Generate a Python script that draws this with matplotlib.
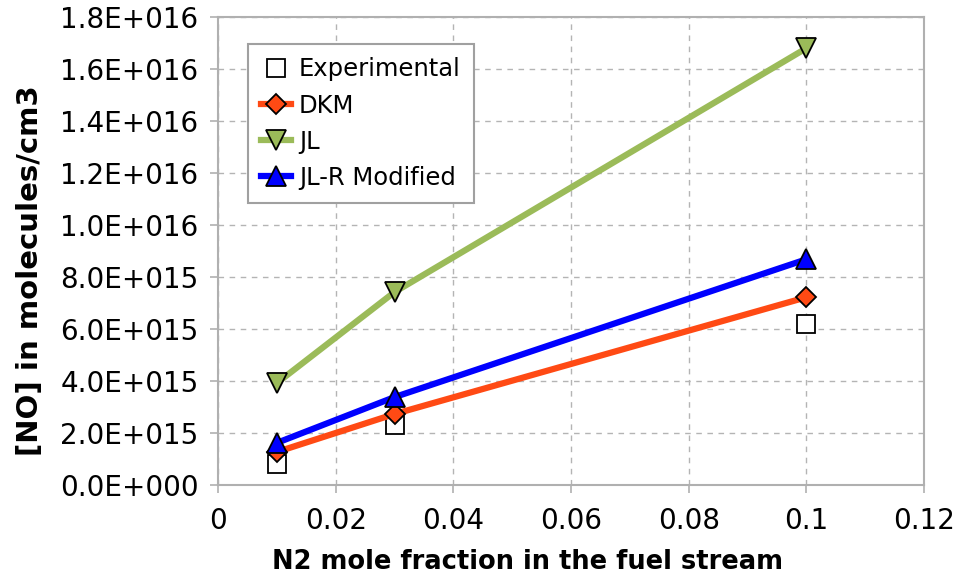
import numpy as np
import matplotlib.pyplot as plt
from matplotlib.ticker import FuncFormatter, MultipleLocator

plt.rcParams['font.family'] = ['DejaVu Sans']

# N2 mole fraction in the fuel stream
x_frac = [0.01, 0.03, 0.1]

# [NO] in molecules/cm3
no_exp = [0.081e16, 0.23e16, 0.62e16]
no_dkm = [0.127e16, 0.273e16, 0.722e16]
no_jl = [0.392e16, 0.742e16, 1.68e16]
no_jlr = [0.162e16, 0.338e16, 0.868e16]


def sci_fmt(v, pos):
    if v == 0:
        return "0.0E+000"
    exp = int(np.floor(np.log10(abs(v)) + 1e-9))
    mant = v / 10 ** exp
    return f"{mant:.1f}E+{exp:03d}"


fig = plt.figure(figsize=(9.71, 5.8), dpi=100)
ax = fig.add_axes([218 / 971, 1 - 485 / 580, 706 / 971, 468 / 580])

grid_c = '#b4b4b4'
ax.grid(True, color=grid_c, linestyle=(0, (4, 4)), linewidth=1.0)
ax.set_axisbelow(True)
for side in ax.spines:
    ax.spines[side].set_color('#b0b0b0')
    ax.spines[side].set_linewidth(1.5)

ax.plot(x_frac, no_exp, linestyle='none', marker='s', markersize=13,
        markerfacecolor='white', markeredgecolor='black', markeredgewidth=1.3,
        label='Experimental', zorder=3)
ax.plot(x_frac, no_dkm, color='#ff4a14', linewidth=4.5, marker='D', markersize=10,
        markerfacecolor='#ff4a14', markeredgecolor='black', markeredgewidth=1.3,
        label='DKM', zorder=4)
ax.plot(x_frac, no_jl, color='#9bbb59', linewidth=4.5, marker='v', markersize=15,
        markerfacecolor='#9bbb59', markeredgecolor='black', markeredgewidth=1.3,
        label='JL', zorder=4)
ax.plot(x_frac, no_jlr, color='#0000ff', linewidth=4.5, marker='^', markersize=15,
        markerfacecolor='#0000ff', markeredgecolor='black', markeredgewidth=1.3,
        label='JL-R Modified', zorder=5)

ax.set_xlim(0, 0.12)
ax.set_ylim(0, 1.8e16)
ax.xaxis.set_major_locator(MultipleLocator(0.02))
ax.yaxis.set_major_locator(MultipleLocator(0.2e16))
ax.xaxis.set_major_formatter(FuncFormatter(lambda v, p: f"{v:g}"))
ax.yaxis.set_major_formatter(FuncFormatter(sci_fmt))
ax.tick_params(axis='both', labelsize=20, color='#b0b0b0', length=6, width=1.2)
ax.tick_params(axis='y', pad=8)
ax.tick_params(axis='x', pad=10)

ax.set_xlabel('N2 mole fraction in the fuel stream', fontsize=18.5, fontweight='bold')
ax.xaxis.set_label_coords(0.438, -0.136)
ax.set_ylabel('[NO] in molecules/cm3', fontsize=21, fontweight='bold')
ax.yaxis.set_label_coords(-0.247, 0.459)

leg = ax.legend(loc='upper left', bbox_to_anchor=(30 / 706, 1 - 27 / 468), fontsize=17.5,
                frameon=True, fancybox=False, edgecolor='#a0a0a0', framealpha=1,
                handlelength=1.2, handletextpad=0.35, labelspacing=0.5,
                borderpad=0.55, borderaxespad=0)
leg.get_frame().set_linewidth(1.5)

fig.savefig('out.png', dpi=100)
